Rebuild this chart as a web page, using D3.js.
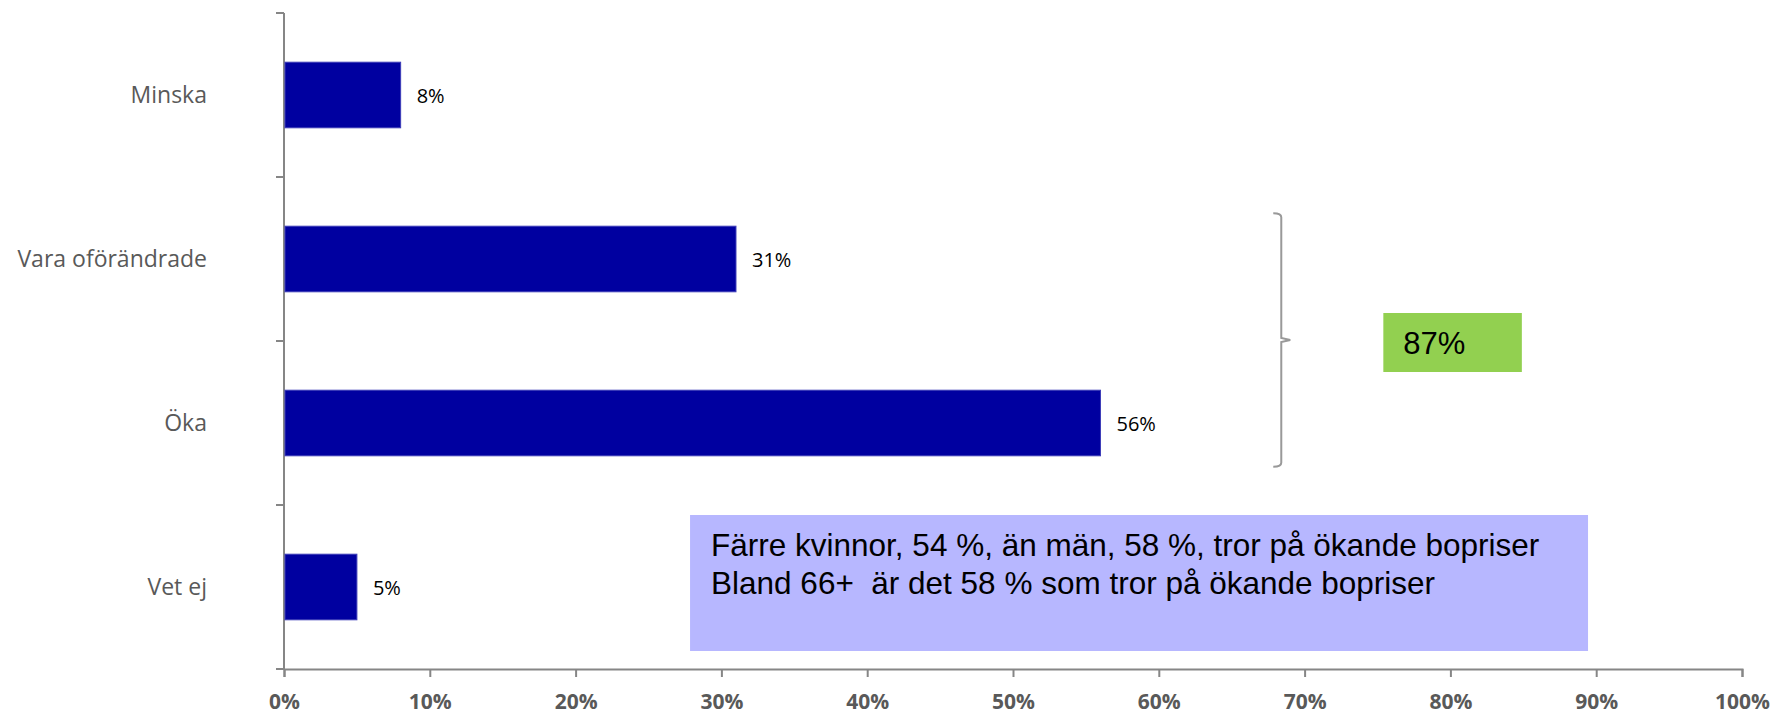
<!DOCTYPE html>
<html lang="sv">
<head>
  <meta charset="UTF-8">
  <title>Bopriser</title>
  <script src="https://d3js.org/d3.v7.min.js"></script>
  <style>
    body {
      margin: 0;
      background: #fff;
    }
    .cat-label {
      font-family: "Open Sans", sans-serif;
      font-size: 23px;
      fill: #595959;
      text-anchor: end;
    }
    .val-label {
      font-family: "Open Sans", sans-serif;
      font-size: 20px;
      fill: #000;
    }
    .x-axis text {
      font-family: "Open Sans", sans-serif;
      font-size: 21px;
      font-weight: bold;
      fill: #595959;
    }
    .note {
      font-family: "Liberation Sans", Arial, sans-serif;
      fill: #000;
      white-space: pre;
    }
  </style>
</head>
<body>
  <svg width="1775" height="714"></svg>

  <script>
    // data
    const categories = ["Minska", "Vara oförändrade", "Öka", "Vet ej"];
    const values = [0.08, 0.31, 0.56, 0.05];
    const xTicks = [0, 0.1, 0.2, 0.3, 0.4, 0.5, 0.6, 0.7, 0.8, 0.9, 1.0];
    const totalLabel = "87%";
    const noteLines = [
      "Färre kvinnor, 54 %, än män, 58 %, tror på ökande bopriser",
      "Bland 66+  är det 58 % som tror på ökande bopriser"
    ];

    const data = categories.map((c, i) => ({ cat: c, val: values[i] }));

    const svg = d3.select("svg");
    const axisColor = "#868686";

    // Scales
    const x = d3.scaleLinear()
      .domain([0, 1])
      .range([284, 1742]);

    const y = d3.scaleBand()
      .domain(categories)
      .range([13, 669])
      .paddingInner(0.6)
      .paddingOuter(0.3);

    // Y axis line with ticks between categories
    const step = y.step();
    const yTickPos = d3.range(categories.length + 1).map(i => 13 + i * step);

    svg.append("line")
      .attr("x1", x(0)).attr("x2", x(0))
      .attr("y1", 13).attr("y2", 669)
      .attr("stroke", axisColor)
      .attr("stroke-width", 2);

    svg.selectAll(".ytick")
      .data(yTickPos)
      .join("line")
      .attr("class", "ytick")
      .attr("x1", x(0) - 8).attr("x2", x(0))
      .attr("y1", d => d).attr("y2", d => d)
      .attr("stroke", axisColor)
      .attr("stroke-width", 2);

    // X axis
    const xAxis = svg.append("g")
      .attr("class", "x-axis")
      .attr("transform", "translate(0,669)")
      .call(d3.axisBottom(x)
        .tickValues(xTicks)
        .tickSize(8)
        .tickPadding(17)
        .tickFormat(d3.format(".0%")));
    xAxis.select(".domain")
      .attr("stroke", axisColor)
      .attr("stroke-width", 2);
    xAxis.selectAll(".tick line")
      .attr("stroke", axisColor)
      .attr("stroke-width", 2);

    // Bars
    svg.selectAll(".bar")
      .data(data)
      .join("rect")
      .attr("class", "bar")
      .attr("x", x(0) + 1)
      .attr("y", d => y(d.cat))
      .attr("width", d => x(d.val) - x(0) - 1)
      .attr("height", y.bandwidth())
      .attr("fill", "#0000a0")
      .attr("stroke", "#3d3db8")
      .attr("stroke-width", 1);

    // Category labels
    svg.selectAll(".cat-label")
      .data(data)
      .join("text")
      .attr("class", "cat-label")
      .attr("x", 207)
      .attr("y", d => y(d.cat) + y.bandwidth() / 2 + 8)
      .text(d => d.cat);

    // Value labels
    svg.selectAll(".val-label")
      .data(data)
      .join("text")
      .attr("class", "val-label")
      .attr("x", d => x(d.val) + 16)
      .attr("y", d => y(d.cat) + y.bandwidth() / 2 + 8)
      .text(d => d3.format(".0%")(d.val));

    // Brace around "Vara oförändrade" + "Öka"
    const bx = x(0.684);
    const bTop = y("Vara oförändrade") - 13;
    const bBot = y("Öka") + y.bandwidth() + 11;
    const bMid = (bTop + bBot) / 2;
    svg.append("path")
      .attr("d", `M${bx - 8},${bTop} Q${bx},${bTop} ${bx},${bTop + 4} L${bx},${bMid - 2} L${bx + 9},${bMid} L${bx},${bMid + 2} L${bx},${bBot - 4} Q${bx},${bBot} ${bx - 8},${bBot}`)
      .attr("fill", "none")
      .attr("stroke", "#999")
      .attr("stroke-width", 2);

    // Green total box
    svg.append("rect")
      .attr("x", x(0.754))
      .attr("y", bMid - 27)
      .attr("width", x(0.849) - x(0.754))
      .attr("height", 59)
      .attr("fill", "#92d050");
    svg.append("text")
      .attr("class", "note")
      .attr("x", x(0.754) + 20)
      .attr("y", bMid + 14)
      .attr("font-size", 31)
      .text(totalLabel);

    // Blue note box
    const nx0 = x(0.2785), nx1 = x(0.8944);
    svg.append("rect")
      .attr("x", nx0)
      .attr("y", 515)
      .attr("width", nx1 - nx0)
      .attr("height", 136)
      .attr("fill", "#b7b7ff");
    svg.selectAll(".note-line")
      .data(noteLines)
      .join("text")
      .attr("class", "note note-line")
      .attr("x", nx0 + 21)
      .attr("y", (d, i) => 556 + i * 38)
      .attr("font-size", 31.5)
      .text(d => d);
  </script>
</body>
</html>
